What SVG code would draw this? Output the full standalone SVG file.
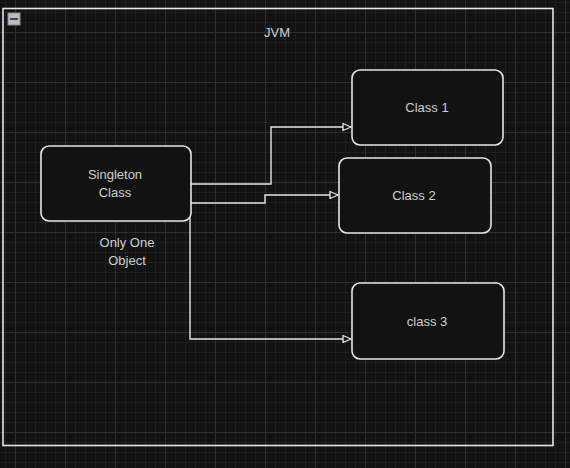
<svg xmlns="http://www.w3.org/2000/svg" width="570" height="468" viewBox="0 0 570 468">
  <style>
    .node rect { fill: #121212; stroke: #e6e6e6; stroke-width: 1.6; }
    .lbl { font-family: "Liberation Sans", "Noto Sans", sans-serif; font-size: 13px; fill: #cfcfcf; text-anchor: middle; }
    .conn { fill: none; stroke: #e6e6e6; stroke-width: 1.4; marker-end: url(#arr); }
  </style>
  <defs>
    <pattern id="grid" patternUnits="userSpaceOnUse" x="15" y="32" width="50" height="50">
      <rect width="50" height="50" fill="#121212"/>
      <path d="M10.5 0V50M20.5 0V50M30.5 0V50M40.5 0V50M0 10.5H50M0 20.5H50M0 30.5H50M0 40.5H50" stroke="#1e1e1e" stroke-width="1"/>
      <path d="M0.5 0V50M0 0.5H50" stroke="#2f2f2f" stroke-width="1"/>
    </pattern>
    <marker id="arr" viewBox="0 0 10 10" refX="9" refY="5" markerWidth="10" markerHeight="10" markerUnits="userSpaceOnUse" orient="auto">
      <path d="M1 1.5 L9 5 L1 8.5 Z" fill="#121212" stroke="#e6e6e6" stroke-width="1.3" stroke-linejoin="round"/>
    </marker>
  </defs>
  <rect width="570" height="468" fill="url(#grid)"/>

  <g id="jvm">
    <rect x="3" y="8.5" width="550" height="437" fill="none" stroke="#e6e6e6" stroke-width="1.6"/>
    <rect x="8" y="13" width="12" height="12" fill="#b8bcc4" stroke="#8a8e96" stroke-width="1"/>
    <line x1="10" y1="19" x2="18" y2="19" stroke="#222" stroke-width="1.5"/>
    <text class="lbl" x="277" y="37" font-size="12">JVM</text>
  </g>

  <g id="connectors">
    <path class="conn" d="M190 184 H271 V127 H351"/>
    <path class="conn" d="M190 203 H265 V195 H338"/>
    <path class="conn" d="M190 212 V339 H351"/>
  </g>

  <g id="singleton" class="node">
    <rect x="41" y="146" width="150" height="75" rx="8"/>
    <text class="lbl" x="115" y="179">Singleton</text>
    <text class="lbl" x="115" y="197">Class</text>
  </g>

  <g id="note">
    <text class="lbl" x="127" y="247">Only One</text>
    <text class="lbl" x="127" y="265">Object</text>
  </g>

  <g id="class1" class="node">
    <rect x="352" y="70" width="151" height="75" rx="8"/>
    <text class="lbl" x="427" y="112">Class 1</text>
  </g>

  <g id="class2" class="node">
    <rect x="339" y="158" width="152" height="75" rx="8"/>
    <text class="lbl" x="414" y="200">Class 2</text>
  </g>

  <g id="class3" class="node">
    <rect x="352" y="283" width="152" height="76" rx="8"/>
    <text class="lbl" x="427" y="326">class 3</text>
  </g>
</svg>
